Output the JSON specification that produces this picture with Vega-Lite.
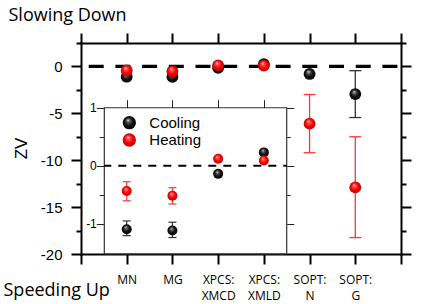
{
  "$schema": "https://vega.github.io/schema/vega-lite/v6.json",
  "width": 320,
  "height": 211,
  "autosize": {"type": "none"},
  "padding": {"left": 81, "top": 43, "right": 35, "bottom": 50},
  "background": "white",
  "datasets": {
    "pts": [
      {"cat": "MN", "series": "Cooling", "v": -1.094, "lo": -1.205, "hi": -0.952},
      {"cat": "MG", "series": "Cooling", "v": -1.117, "lo": -1.238, "hi": -0.974},
      {"cat": "XPCS: XMCD", "series": "Cooling", "v": -0.14, "lo": null, "hi": null},
      {"cat": "XPCS: XMLD", "series": "Cooling", "v": 0.23, "lo": null, "hi": null},
      {"cat": "SOPT: N", "series": "Cooling", "v": -0.8, "lo": null, "hi": null},
      {"cat": "SOPT: G", "series": "Cooling", "v": -2.95, "lo": -5.45, "hi": -0.45},
      {"cat": "MN", "series": "Heating", "v": -0.436, "lo": -0.605, "hi": -0.276},
      {"cat": "MG", "series": "Heating", "v": -0.517, "lo": -0.66, "hi": -0.379},
      {"cat": "XPCS: XMCD", "series": "Heating", "v": 0.12, "lo": null, "hi": null},
      {"cat": "XPCS: XMLD", "series": "Heating", "v": 0.09, "lo": null, "hi": null},
      {"cat": "SOPT: N", "series": "Heating", "v": -6.1, "lo": -9.2, "hi": -3.0},
      {"cat": "SOPT: G", "series": "Heating", "v": -12.9, "lo": -18.25, "hi": -7.5}
    ],
    "legendCooling": [{"series": "Cooling"}],
    "legendHeating": [{"series": "Heating"}]
  },
  "resolve": {
    "scale": {"x": "independent", "y": "independent"},
    "axis": {"x": "independent", "y": "independent"}
  },
  "layer": [
    {
      "data": {"values": [{}]},
      "mark": {"type": "rect", "filled": false, "color": "#333333", "strokeWidth": 1.2},
      "encoding": {
        "x": {"datum": 0.51, "type": "quantitative", "scale": {"type": "linear", "domain": [0, 7], "nice": false, "zero": false}, "axis": null},
        "x2": {"datum": 4.5},
        "y": {"datum": 1, "type": "quantitative", "scale": {"domain": [-1.522, 2.116], "nice": false, "zero": false},
          "axis": {"orient": "left", "offset": -23.3, "values": [-0.5, 0.5], "tickSize": 5, "tickWidth": 1, "tickColor": "#222222", "labels": false, "domain": false, "title": null}},
        "y2": {"datum": -1.522}
      }
    },
    {
      "data": {"values": [{}]},
      "mark": {"type": "rule", "strokeDash": [8, 7], "strokeDashOffset": 1, "strokeWidth": 1.8, "color": "#000000"},
      "encoding": {
        "x": {"datum": 0.51, "type": "quantitative", "scale": {"type": "linear", "domain": [0, 7], "nice": false, "zero": false}, "axis": null},
        "x2": {"datum": 4.5},
        "y": {"datum": 0, "type": "quantitative", "scale": {"domain": [-1.522, 2.116], "nice": false, "zero": false},
          "axis": {"orient": "left", "offset": -23.3, "values": [-1, 0, 1], "tickSize": 8, "tickWidth": 1, "tickColor": "#222222", "labelExpr": "datum.value + ''", "labelFont": "Liberation Sans", "labelFontSize": 12, "labelPadding": 0, "domain": false, "title": null}}
      }
    },
    {
      "data": {"values": [{}]},
      "mark": {"type": "rule", "strokeDash": [15, 11.7], "strokeDashOffset": 23.1, "strokeWidth": 3.3, "color": "#000000"},
      "encoding": {
        "y": {"datum": 0, "type": "quantitative", "scale": {"domain": [-20, 2.5], "nice": false, "zero": false},
          "axis": {"orient": "left", "values": [-20, -15, -10, -5, 0], "tickSize": 10, "tickWidth": 2, "labelExpr": "datum.value + ''", "labelFont": "Liberation Sans", "labelFontSize": 15, "labelPadding": 9, "domain": true, "domainWidth": 2, "domainCap": "square",
            "title": "ZV", "titleFont": "Liberation Sans", "titleFontSize": 17, "titleFontWeight": "normal", "titleAngle": -90, "titleX": -55, "titleY": 105, "titleAlign": "center", "titleBaseline": "alphabetic"}}
      }
    },
    {
      "data": {"name": "pts"},
      "transform": [{"filter": "indexof(datum.cat, 'SOPT') < 0 && isValid(datum.lo)"}],
      "mark": {"type": "rule", "strokeWidth": 1.2, "opacity": 1},
      "encoding": {
        "x": {"field": "cat", "type": "nominal", "scale": {"type": "point", "domain": ["_a", "MN", "MG", "XPCS: XMCD", "XPCS: XMLD", "SOPT: N", "SOPT: G", "_b"], "padding": 0},
          "axis": {"orient": "top", "offset": -64.7, "values": ["MN", "MG", "XPCS: XMCD", "XPCS: XMLD"], "tickSize": 8, "tickWidth": 1, "tickColor": "#222222", "labels": false, "domain": false, "title": null}},
        "y": {"field": "lo", "type": "quantitative", "scale": {"domain": [-1.522, 2.116], "nice": false, "zero": false},
          "axis": {"orient": "right", "offset": -114.3, "values": [-1, 0, 1], "tickSize": 7, "tickWidth": 1, "tickColor": "#222222", "labels": false, "domain": false, "title": null}},
        "y2": {"field": "hi"},
        "stroke": {"field": "series", "type": "nominal", "scale": {"domain": ["Cooling", "Heating"], "range": ["#333333", "#f23a3a"]}, "legend": null}
      }
    },
    {
      "data": {"name": "pts"},
      "transform": [{"filter": "indexof(datum.cat, 'SOPT') < 0 && isValid(datum.lo)"}],
      "mark": {"type": "tick", "thickness": 1.2, "size": 8, "opacity": 1},
      "encoding": {
        "x": {"field": "cat", "type": "nominal", "scale": {"type": "point", "domain": ["_a", "MN", "MG", "XPCS: XMCD", "XPCS: XMLD", "SOPT: N", "SOPT: G", "_b"], "padding": 0}, "axis": null},
        "y": {"field": "lo", "type": "quantitative", "scale": {"domain": [-1.522, 2.116], "nice": false, "zero": false},
          "axis": {"orient": "right", "offset": -114.3, "values": [-0.5, 0.5], "tickSize": 3.5, "tickWidth": 1, "tickColor": "#222222", "labels": false, "domain": false, "title": null}},
        "fill": {"field": "series", "type": "nominal", "scale": {"domain": ["Cooling", "Heating"], "range": ["#333333", "#f23a3a"]}, "legend": null}
      }
    },
    {
      "data": {"name": "pts"},
      "transform": [{"filter": "indexof(datum.cat, 'SOPT') < 0 && isValid(datum.lo)"}],
      "mark": {"type": "tick", "thickness": 1.2, "size": 8, "opacity": 1},
      "encoding": {
        "x": {"field": "cat", "type": "nominal", "scale": {"type": "point", "domain": ["_a", "MN", "MG", "XPCS: XMCD", "XPCS: XMLD", "SOPT: N", "SOPT: G", "_b"], "padding": 0}, "axis": null},
        "y": {"field": "hi", "type": "quantitative", "scale": {"domain": [-1.522, 2.116], "nice": false, "zero": false}, "axis": null},
        "fill": {"field": "series", "type": "nominal", "scale": {"domain": ["Cooling", "Heating"], "range": ["#333333", "#f23a3a"]}, "legend": null}
      }
    },
    {
      "data": {"name": "pts"},
      "transform": [{"filter": "indexof(datum.cat, 'SOPT') == 0 && isValid(datum.lo)"}],
      "mark": {"type": "rule", "strokeWidth": 1.3, "opacity": 1},
      "encoding": {
        "x": {"field": "cat", "type": "nominal", "scale": {"type": "point", "domain": ["_a", "MN", "MG", "XPCS: XMCD", "XPCS: XMLD", "SOPT: N", "SOPT: G", "_b"], "padding": 0},
          "axis": {"orient": "bottom", "values": ["_a", "MN", "MG", "XPCS: XMCD", "XPCS: XMLD", "SOPT: N", "SOPT: G", "_b"], "tickSize": 10, "tickWidth": 2, "domain": true, "domainWidth": 2, "domainCap": "square",
            "labelExpr": "indexof(datum.value, '_') == 0 ? '' : split(datum.value, ' ')", "labelFont": "Open Sans", "labelFontSize": 12, "labelLineHeight": 16.5, "labelPadding": 10, "labelAngle": 0,
            "title": "Speeding Up", "titleFont": "Open Sans", "titleFontSize": 18, "titleFontWeight": "normal", "titleX": -78, "titleY": 41, "titleAlign": "left", "titleBaseline": "alphabetic"}},
        "y": {"field": "lo", "type": "quantitative", "scale": {"domain": [-20, 2.5], "nice": false, "zero": false},
          "axis": {"orient": "right", "values": [-20, -15, -10, -5, 0], "tickSize": 10, "tickWidth": 2, "labels": false, "domain": true, "domainWidth": 2, "domainCap": "square", "title": null}},
        "y2": {"field": "hi"},
        "stroke": {"field": "series", "type": "nominal", "scale": {"domain": ["Cooling", "Heating"], "range": ["#333333", "#f23a3a"]}, "legend": null}
      }
    },
    {
      "data": {"name": "pts"},
      "transform": [{"filter": "indexof(datum.cat, 'SOPT') == 0 && isValid(datum.lo)"}],
      "mark": {"type": "tick", "thickness": 1.3, "size": 12, "opacity": 1},
      "encoding": {
        "x": {"field": "cat", "type": "nominal", "scale": {"type": "point", "domain": ["_a", "MN", "MG", "XPCS: XMCD", "XPCS: XMLD", "SOPT: N", "SOPT: G", "_b"], "padding": 0}, "axis": null},
        "y": {"field": "lo", "type": "quantitative", "scale": {"domain": [-20, 2.5], "nice": false, "zero": false},
          "axis": {"orient": "left", "values": [2.5, -2.5, -7.5, -12.5, -17.5], "tickSize": 5, "tickWidth": 2, "labels": false, "domain": false, "title": null}},
        "fill": {"field": "series", "type": "nominal", "scale": {"domain": ["Cooling", "Heating"], "range": ["#333333", "#f23a3a"]}, "legend": null}
      }
    },
    {
      "data": {"name": "pts"},
      "transform": [{"filter": "indexof(datum.cat, 'SOPT') == 0 && isValid(datum.lo)"}],
      "mark": {"type": "tick", "thickness": 1.3, "size": 12, "opacity": 1},
      "encoding": {
        "x": {"field": "cat", "type": "nominal", "scale": {"type": "point", "domain": ["_a", "MN", "MG", "XPCS: XMCD", "XPCS: XMLD", "SOPT: N", "SOPT: G", "_b"], "padding": 0}, "axis": null},
        "y": {"field": "hi", "type": "quantitative", "scale": {"domain": [-20, 2.5], "nice": false, "zero": false},
          "axis": {"orient": "right", "values": [2.5, -2.5, -7.5, -12.5, -17.5], "tickSize": 5, "tickWidth": 2, "labels": false, "domain": false, "title": null}},
        "fill": {"field": "series", "type": "nominal", "scale": {"domain": ["Cooling", "Heating"], "range": ["#333333", "#f23a3a"]}, "legend": null}
      }
    },
    {
      "data": {"name": "pts"},
      "transform": [{"filter": "indexof(datum.cat, 'SOPT') < 0"}],
      "mark": {"type": "point", "filled": true, "size": 100, "opacity": 1, "strokeWidth": 0},
      "encoding": {
        "x": {"field": "cat", "type": "nominal", "scale": {"type": "point", "domain": ["_a", "MN", "MG", "XPCS: XMCD", "XPCS: XMLD", "SOPT: N", "SOPT: G", "_b"], "padding": 0}, "axis": null},
        "y": {"field": "v", "type": "quantitative", "scale": {"domain": [-1.522, 2.116], "nice": false, "zero": false}, "axis": null},
        "fill": {"condition": {"test": "datum.series === 'Cooling'",
            "value": {"gradient": "radial", "x1": 0.4, "y1": 0.3, "r1": 0, "x2": 0.5, "y2": 0.5, "r2": 0.55, "stops": [{"offset": 0, "color": "#f0f0f0"}, {"offset": 0.22, "color": "#606060"}, {"offset": 0.55, "color": "#141414"}, {"offset": 1, "color": "#000000"}]}},
          "value": {"gradient": "radial", "x1": 0.4, "y1": 0.3, "r1": 0, "x2": 0.5, "y2": 0.5, "r2": 0.55, "stops": [{"offset": 0, "color": "#ffe6e6"}, {"offset": 0.22, "color": "#ff5050"}, {"offset": 0.6, "color": "#f00000"}, {"offset": 1, "color": "#c00000"}]}}
      }
    },
    {
      "data": {"name": "pts"},
      "mark": {"type": "point", "filled": true, "size": 140, "opacity": 1, "strokeWidth": 0},
      "encoding": {
        "x": {"field": "cat", "type": "nominal", "scale": {"type": "point", "domain": ["_a", "MN", "MG", "XPCS: XMCD", "XPCS: XMLD", "SOPT: N", "SOPT: G", "_b"], "padding": 0},
          "axis": {"orient": "top", "values": ["_a", "MN", "MG", "XPCS: XMCD", "XPCS: XMLD", "SOPT: N", "SOPT: G", "_b"], "tickSize": 10, "tickWidth": 2, "labels": false, "domain": true, "domainWidth": 2, "domainCap": "square",
            "title": "Slowing Down", "titleFont": "Open Sans", "titleFontSize": 18, "titleFontWeight": "normal", "titleX": -73, "titleY": -23, "titleAlign": "left", "titleBaseline": "alphabetic"}},
        "y": {"field": "v", "type": "quantitative", "scale": {"domain": [-20, 2.5], "nice": false, "zero": false}, "axis": null},
        "fill": {"condition": {"test": "datum.series === 'Cooling'",
            "value": {"gradient": "radial", "x1": 0.4, "y1": 0.3, "r1": 0, "x2": 0.5, "y2": 0.5, "r2": 0.55, "stops": [{"offset": 0, "color": "#f0f0f0"}, {"offset": 0.22, "color": "#606060"}, {"offset": 0.55, "color": "#141414"}, {"offset": 1, "color": "#000000"}]}},
          "value": {"gradient": "radial", "x1": 0.4, "y1": 0.3, "r1": 0, "x2": 0.5, "y2": 0.5, "r2": 0.55, "stops": [{"offset": 0, "color": "#ffe6e6"}, {"offset": 0.22, "color": "#ff5050"}, {"offset": 0.6, "color": "#f00000"}, {"offset": 1, "color": "#c00000"}]}}
      }
    },
    {
      "data": {"name": "legendCooling"},
      "mark": {"type": "point", "filled": true, "size": 177, "opacity": 1, "strokeWidth": 0,
        "fill": {"gradient": "radial", "x1": 0.4, "y1": 0.3, "r1": 0, "x2": 0.5, "y2": 0.5, "r2": 0.55, "stops": [{"offset": 0, "color": "#f0f0f0"}, {"offset": 0.22, "color": "#606060"}, {"offset": 0.55, "color": "#141414"}, {"offset": 1, "color": "#000000"}]}},
      "encoding": {
        "x": {"datum": 1.057, "type": "quantitative", "scale": {"type": "linear", "domain": [0, 7], "nice": false, "zero": false}, "axis": null},
        "y": {"datum": 0.742, "type": "quantitative", "scale": {"domain": [-1.522, 2.116], "nice": false, "zero": false}, "axis": null}
      }
    },
    {
      "data": {"name": "legendHeating"},
      "mark": {"type": "point", "filled": true, "size": 177, "opacity": 1, "strokeWidth": 0,
        "fill": {"gradient": "radial", "x1": 0.4, "y1": 0.3, "r1": 0, "x2": 0.5, "y2": 0.5, "r2": 0.55, "stops": [{"offset": 0, "color": "#ffe6e6"}, {"offset": 0.22, "color": "#ff5050"}, {"offset": 0.6, "color": "#f00000"}, {"offset": 1, "color": "#c00000"}]}},
      "encoding": {
        "x": {"datum": 1.057, "type": "quantitative", "scale": {"type": "linear", "domain": [0, 7], "nice": false, "zero": false}, "axis": null},
        "y": {"datum": 0.444, "type": "quantitative", "scale": {"domain": [-1.522, 2.116], "nice": false, "zero": false}, "axis": null}
      }
    },
    {
      "data": {"name": "legendCooling"},
      "mark": {"type": "text", "align": "left", "baseline": "middle", "font": "Liberation Sans", "fontSize": 15, "color": "#000000"},
      "encoding": {
        "x": {"datum": 1.494, "type": "quantitative", "scale": {"type": "linear", "domain": [0, 7], "nice": false, "zero": false}, "axis": null},
        "y": {"datum": 0.742, "type": "quantitative", "scale": {"domain": [-1.522, 2.116], "nice": false, "zero": false}, "axis": null},
        "text": {"field": "series"}
      }
    },
    {
      "data": {"name": "legendHeating"},
      "mark": {"type": "text", "align": "left", "baseline": "middle", "font": "Liberation Sans", "fontSize": 15, "color": "#000000"},
      "encoding": {
        "x": {"datum": 1.494, "type": "quantitative", "scale": {"type": "linear", "domain": [0, 7], "nice": false, "zero": false}, "axis": null},
        "y": {"datum": 0.444, "type": "quantitative", "scale": {"domain": [-1.522, 2.116], "nice": false, "zero": false}, "axis": null},
        "text": {"field": "series"}
      }
    }
  ],
  "config": {
    "view": {"stroke": null},
    "axis": {"grid": false, "domainColor": "#000000", "tickColor": "#000000", "labelColor": "#000000", "titleColor": "#000000"}
  }
}
